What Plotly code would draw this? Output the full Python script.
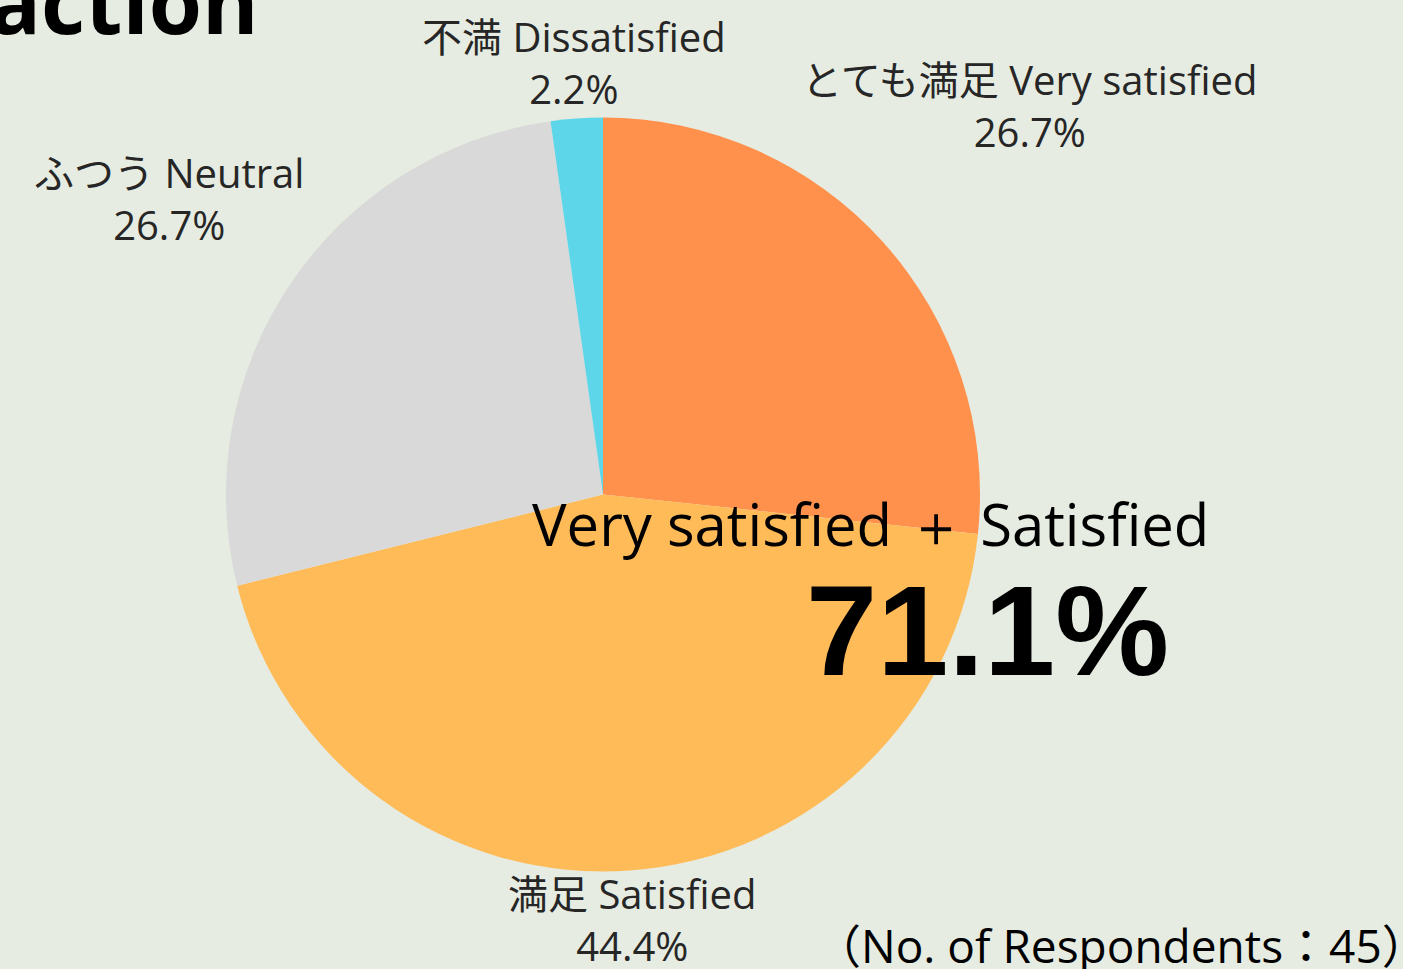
import plotly.graph_objects as go

W, H = 1403, 969

categories_jp = ["とても満足", "満足", "ふつう", "不満"]
categories_en = ["Very satisfied", "Satisfied", "Neutral", "Dissatisfied"]
counts = [12, 20, 12, 1]
colors = ["#FF914D", "#FFBB58", "#D9D9D9", "#5CD6E8"]
respondents = 45
title_text = "Satisfaction"
combined_label = "Very satisfied ＋ Satisfied"

total = sum(counts)
pcts = [c / total * 100 for c in counts]
combined = (counts[0] + counts[1]) / total * 100

bg = "#E6ECE1"

def px(x, y):
    return x / W, 1 - y / H

fig = go.Figure()
fig.add_trace(go.Pie(
    labels=[f"{j} {e}" for j, e in zip(categories_jp, categories_en)],
    values=counts,
    marker=dict(colors=colors, line=dict(width=0)),
    sort=False,
    direction="clockwise",
    rotation=0,
    textinfo="none",
    hoverinfo="label+percent",
    showlegend=False,
    domain=dict(x=[226 / W, 980 / W], y=[1 - 872 / H, 1 - 117 / H]),
))

label_pos = [(1029, 106), (632, 919), (169, 198), (574, 62)]
annotations = []
for (x, y), j, e, p in zip(label_pos, categories_jp, categories_en, pcts):
    ax, ay = px(x, y)
    annotations.append(dict(
        x=ax, y=ay, xref="paper", yref="paper", xanchor="center", yanchor="middle",
        text=f"{j} {e}<br>{p:.1f}%", showarrow=False, align="center",
        font=dict(family="Open Sans, Noto Sans CJK JP", size=40, color="#262626"),
    ))

tx, ty = px(260, 61)
annotations.append(dict(x=tx, y=ty, xref="paper", yref="paper", xanchor="right", yanchor="bottom",
                        text=f"<b>{title_text}</b>", showarrow=False,
                        font=dict(family="Open Sans", size=86, color="#000000")))

cx, cy = px(870, 523)
annotations.append(dict(x=cx, y=cy, xref="paper", yref="paper", xanchor="center", yanchor="middle",
                        text=combined_label, showarrow=False,
                        font=dict(family="Open Sans", size=58, color="#000000")))

vx, vy = px(987, 630)
annotations.append(dict(x=vx, y=vy, xref="paper", yref="paper", xanchor="center", yanchor="middle",
                        text=f"<b>{combined:.1f}%</b>", showarrow=False,
                        font=dict(family="Liberation Sans, Arial", size=128, color="#000000")))

rx, ry = px(1430, 945)
annotations.append(dict(x=rx, y=ry, xref="paper", yref="paper", xanchor="right", yanchor="middle",
                        text=f"（No. of Respondents：{respondents}）", showarrow=False,
                        font=dict(family="Open Sans, Noto Sans CJK JP", size=46, color="#000000")))

fig.update_layout(
    width=W, height=H,
    margin=dict(l=0, r=0, t=0, b=0),
    paper_bgcolor=bg, plot_bgcolor=bg,
    annotations=annotations,
)

fig.write_html("out.html", config={"displayModeBar": False},
               post_script="document.body.style.margin='0';document.body.style.background='" + bg + "';")
